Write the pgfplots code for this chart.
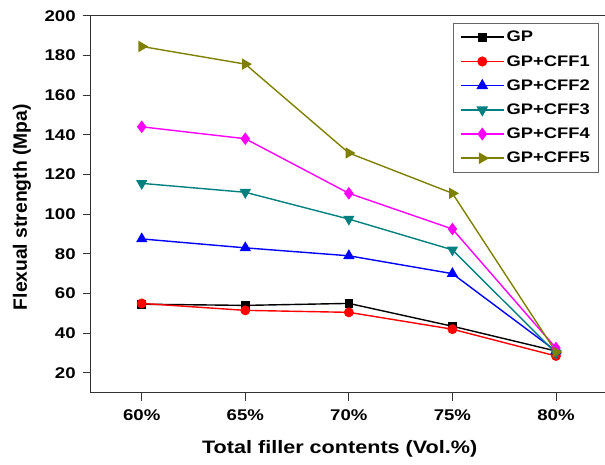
\documentclass[border=0pt]{standalone}
\usepackage{fontspec}
\setmainfont[FakeStretch=1.2]{Liberation Sans}
\newfontfamily\plainsans{Liberation Sans}
\usepackage{pgfplots}
\pgfplotsset{compat=1.18}
\definecolor{cRed}{RGB}{255,0,0}
\definecolor{cBlue}{RGB}{0,0,255}
\definecolor{cTeal}{RGB}{0,128,128}
\definecolor{cMag}{RGB}{255,0,255}
\definecolor{cOlive}{RGB}{128,128,0}
\begin{document}
\begin{tikzpicture}
\begin{axis}[
  scale only axis,
  width=516pt, height=377pt,
  at={(0,0)}, anchor=south west,
  xmin=-0.493, xmax=4.49, ymin=10, ymax=200,
  xtick={0,1,2,3,4},
  xticklabels={60\%,65\%,70\%,75\%,80\%},
  ytick={20,40,...,200},
  tick align=outside,
  xtick pos=bottom, ytick pos=left,
  major tick length=8pt,
  axis line style={black!80, line width=0.9pt},
  tick style={black!80, line width=0.9pt},
  /pgf/number format/assume math mode=true,
  tick label style={font=\fontsize{15.5}{17}\selectfont\bfseries},
  xticklabel style={anchor=center, yshift=-14pt},
  yticklabel style={xshift=-3.5pt},
  xlabel={Total filler contents (Vol.\%)},
  ylabel={Flexual strength (Mpa)},
  xlabel style={font=\fontsize{18}{20}\selectfont\bfseries,
    at={(axis description cs:0.5,0)}, anchor=center, xshift=-9pt, yshift=-56pt},
  ylabel style={font=\fontsize{19.3}{21}\selectfont\bfseries\plainsans,
    at={(axis description cs:0,0.5)}, anchor=center, xshift=-3pt, yshift=68.7pt},
  legend style={at={(rel axis cs:0.984,0.9807)}, anchor=north east, draw=black!60,
    font=\fontsize{15.3}{17}\selectfont\bfseries, row sep=8pt,
    inner xsep=6.5pt, inner ysep=6pt},
  legend cell align=left,
  legend image code/.code={%
    \draw[line width=1.6pt, mark repeat=2, mark phase=2] plot coordinates {(0pt,0pt) (21.5pt,0pt) (43pt,0pt)};},
  every axis plot/.append style={line width=1.4pt, mark size=4pt},
]
\addplot[black, mark=square*, mark size=3.6pt] coordinates {(0,54.6) (1,54) (2,55) (3,43.5) (4,31)};
\addlegendentry{GP}
\addplot[cRed, mark=*, mark size=4.2pt] coordinates {(0,55) (1,51.5) (2,50.5) (3,42) (4,28.5)};
\addlegendentry{GP+CFF1}
\addplot[cBlue, mark=triangle*, mark size=5.2pt] coordinates {(0,87.5) (1,83) (2,79) (3,70) (4,31)};
\addlegendentry{GP+CFF2}
\addplot[cTeal, mark=triangle*, mark size=5.2pt, mark options={rotate=180}] coordinates {(0,115.5) (1,111) (2,97.5) (3,82) (4,30)};
\addlegendentry{GP+CFF3}
\addplot[cMag, mark=diamond*, mark size=5.2pt] coordinates {(0,144) (1,138) (2,110.5) (3,92.5) (4,32.5)};
\addlegendentry{GP+CFF4}
\addplot[cOlive, mark=triangle*, mark size=5.2pt, mark options={rotate=-90}] coordinates {(0,184.5) (1,175.6) (2,130.8) (3,110.5) (4,30.5)};
\addlegendentry{GP+CFF5}
\end{axis}
\pgfresetboundingbox
\path (-90.7pt,-71.3pt) rectangle (514.3pt,392.7pt);
\end{tikzpicture}
\end{document}
